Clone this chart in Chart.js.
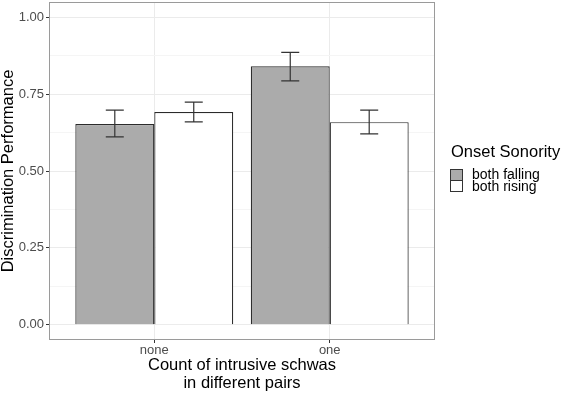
<!DOCTYPE html>
<html>
<head>
<meta charset="utf-8">
<script src="https://cdn.jsdelivr.net/npm/chart.js@4.4.1/dist/chart.umd.min.js"></script>
<style>
  body { margin: 0; background: #fff; }
  #wrap { position: relative; width: 561px; height: 393px; font-family: "Liberation Sans", Arial, sans-serif; }
  #legend .title { position: absolute; left: 451px; top: 142px; font-size: 16.5px; line-height: 18px; color: #000; white-space: nowrap; }
  #legend .key { position: absolute; left: 450px; width: 11px; height: 10px; border: 1px solid #333; }
  #legend .lab { position: absolute; left: 472px; font-size: 14px; line-height: 12px; color: #000; white-space: nowrap; }
</style>
</head>
<body>
<div id="wrap">
  <canvas id="chart"></canvas>
  <div id="legend"></div>
</div>
<script>
const categories = ["none", "one"];
const groups = ["both falling", "both rising"];
const fallingValues = [0.653, 0.841];
const fallingLow = [0.611, 0.793];
const fallingHigh = [0.698, 0.886];
const risingValues = [0.692, 0.659];
const risingLow = [0.660, 0.621];
const risingHigh = [0.724, 0.698];
const yTicks = [0, 0.25, 0.5, 0.75, 1];

const fills = ["#ABABAB", "#FFFFFF"];
const lows = [fallingLow, risingLow];
const highs = [fallingHigh, risingHigh];

// minor gridlines halfway between the major ones, like ggplot
const yGrid = [];
yTicks.forEach((v, i) => {
  yGrid.push(v);
  if (i < yTicks.length - 1) yGrid.push((v + yTicks[i + 1]) / 2);
});

const errorBars = {
  id: "errorBars",
  afterDatasetsDraw(chart) {
    const ctx = chart.ctx;
    const y = chart.scales.y;
    ctx.save();
    ctx.strokeStyle = "#333333";
    ctx.lineWidth = 1.2;
    chart.data.datasets.forEach((ds, d) => {
      chart.getDatasetMeta(d).data.forEach((bar, i) => {
        const top = y.getPixelForValue(highs[d][i]);
        const bot = y.getPixelForValue(lows[d][i]);
        ctx.beginPath();
        ctx.moveTo(bar.x, top); ctx.lineTo(bar.x, bot);
        ctx.moveTo(bar.x - 9, top); ctx.lineTo(bar.x + 9, top);
        ctx.moveTo(bar.x - 9, bot); ctx.lineTo(bar.x + 9, bot);
        ctx.stroke();
      });
    });
    ctx.restore();
  }
};

const panelBorder = {
  id: "panelBorder",
  afterDraw(chart) {
    const a = chart.chartArea;
    const ctx = chart.ctx;
    ctx.save();
    ctx.strokeStyle = "#9A9A9A";
    ctx.lineWidth = 1;
    ctx.strokeRect(a.left + 0.5, a.top + 0.5, a.right - a.left - 1, a.bottom - a.top - 1);
    ctx.restore();
  }
};

const font = "'Liberation Sans', Arial, sans-serif";

new Chart(document.getElementById("chart"), {
  type: "bar",
  data: {
    datasets: [
      {
        label: groups[0],
        data: fallingValues.map((v, i) => ({ x: i + 1, y: v })),
        backgroundColor: fills[0],
        borderColor: "#2B2B2B",
        borderWidth: 1.2
      },
      {
        label: groups[1],
        data: risingValues.map((v, i) => ({ x: i + 1, y: v })),
        backgroundColor: fills[1],
        borderColor: "#2B2B2B",
        borderWidth: 1.2
      }
    ]
  },
  options: {
    responsive: true,
    maintainAspectRatio: false,
    animation: false,
    devicePixelRatio: 1,
    categoryPercentage: 0.9,
    barPercentage: 1,
    layout: { padding: { top: 2, right: 126, left: 0, bottom: 0 } },
    plugins: { legend: { display: false }, tooltip: { enabled: false } },
    scales: {
      x: {
        type: "linear",
        offset: false,
        min: 0.4,
        max: 2.6,
        afterBuildTicks: s => { s.ticks = categories.map((c, i) => ({ value: i + 1 })); },
        afterFit: s => { s.height = 53; s.paddingLeft = 0; s.paddingRight = 0; },
        border: { display: false },
        grid: { offset: false, color: "#EBEBEB", lineWidth: 1, tickColor: "#333333", tickLength: 3 },
        ticks: {
          autoSkip: false,
          padding: 0,
          color: "#4D4D4D",
          font: { family: font, size: 13 },
          callback: v => categories[v - 1]
        },
        title: {
          display: true,
          text: ["Count of intrusive schwas", "in different pairs"],
          color: "#000",
          padding: { top: 0, bottom: 1 },
          font: { family: font, size: 16.5, lineHeight: "18px" }
        }
      },
      y: {
        min: -0.05,
        max: 1.05,
        afterBuildTicks: s => { s.ticks = yGrid.map(v => ({ value: v })); },
        afterFit: s => { s.width = 49; s.paddingTop = 0; s.paddingBottom = 0; },
        border: { display: false },
        grid: {
          color: c => yTicks.includes(c.tick.value) ? "#EBEBEB" : "#F5F5F5",
          lineWidth: 1,
          tickColor: c => yTicks.includes(c.tick.value) ? "#333333" : "rgba(0,0,0,0)",
          tickLength: 3
        },
        ticks: {
          autoSkip: false,
          padding: 2,
          color: "#4D4D4D",
          font: { family: font, size: 13 },
          callback: v => yTicks.includes(v) ? v.toFixed(2) : ""
        },
        title: {
          display: true,
          text: "Discrimination Performance",
          color: "#000",
          padding: { top: 0, bottom: 0 },
          font: { family: font, size: 16.5, lineHeight: 1 }
        }
      }
    }
  },
  plugins: [errorBars, panelBorder]
});

// legend in ggplot style
const legend = document.getElementById("legend");
legend.innerHTML = '<div class="title">Onset Sonority</div>' +
  groups.map((g, i) =>
    '<div class="key" style="top:' + (169 + i * 11) + 'px;background:' + fills[i] + '"></div>' +
    '<div class="lab" style="top:' + (168 + i * 12) + 'px">' + g + '</div>'
  ).join("");
</script>
</body>
</html>
